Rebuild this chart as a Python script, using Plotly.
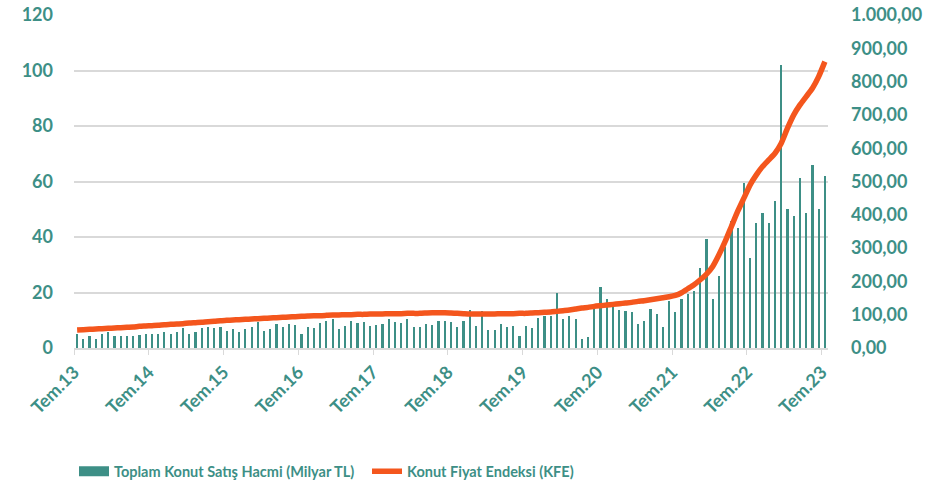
import plotly.graph_objects as go

TEAL = "#3D8F86"
ORANGE = "#F4561D"
GRID = "#D9D9D9"

# Monthly data, Jul 2013 (index 0) to Jul 2023 (index 120)
sales_volume = [
    4.9, 3.4, 4.3, 3.4, 5.1, 5.7, 4.3, 4.3, 4.5, 4.5, 4.7, 5.1,
    4.9, 4.9, 5.9, 5.2, 5.9, 7.1, 5.2, 5.7, 7.2, 7.7, 7.3, 7.5,
    6.1, 6.7, 5.8, 6.9, 7.7, 9.2, 6.0, 6.9, 8.6, 7.7, 8.7, 8.4,
    5.1, 7.5, 7.3, 8.9, 9.8, 10.4, 6.9, 7.9, 9.9, 9.0, 9.2, 8.1,
    8.2, 8.5, 10.6, 9.5, 9.1, 10.5, 7.7, 7.7, 8.8, 8.4, 9.7, 9.8,
    9.3, 7.4, 9.9, 13.8, 8.1, 13.4, 6.5, 6.5, 8.8, 7.7, 7.9, 4.5,
    7.8, 7.1, 10.9, 11.5, 11.6, 19.8, 10.6, 11.5, 10.3, 3.1, 3.9, 15.7,
    21.9, 17.5, 14.7, 13.7, 13.2, 12.9, 8.5, 9.9, 14.1, 12.3, 7.5, 17.1,
    12.9, 17.6, 19.3, 20.5, 28.9, 39.3, 17.7, 25.9, 36.3, 45.6, 43.2, 59.5,
    32.4, 45.2, 48.8, 45.1, 52.8, 102.0, 50.2, 47.4, 61.2, 48.8, 66.1, 50.2,
    61.9,
]

price_index = [
    54, 55, 56, 57, 58, 59, 60, 61, 62, 63, 65, 66,
    67, 68, 70, 71, 72, 73, 75, 76, 77, 79, 80, 82,
    83, 84, 85, 86, 87, 88, 89, 90, 91, 92, 93, 94,
    95, 96, 97, 97, 98, 99, 99, 100, 100, 101, 101, 102,
    102, 102, 103, 103, 103, 104, 104, 104, 105, 106, 106, 106,
    105, 104, 103, 102, 102, 102, 102, 102, 103, 103, 103, 104,
    104, 105, 106, 107, 108, 110, 112, 114, 117, 120, 122, 125,
    127, 129, 131, 133, 135, 137, 140, 142, 145, 148, 151, 154,
    158, 166, 178, 190, 205, 222, 245, 280, 320, 365, 410, 450,
    490, 520, 545, 565, 585, 615, 660, 700, 730, 755, 780, 815,
    860,
]

year_labels = ["Tem.13", "Tem.14", "Tem.15", "Tem.16", "Tem.17", "Tem.18",
               "Tem.19", "Tem.20", "Tem.21", "Tem.22", "Tem.23"]

months = list(range(len(sales_volume)))
label_pos = [i * 12 - 0.5 for i in range(len(year_labels))]

bar_name = "Toplam Konut Satış Hacmi (Milyar TL)"

fig = go.Figure()
fig.add_trace(
    go.Bar(
        x=months,
        y=sales_volume,
        name=bar_name,
        marker={"color": TEAL, "line": {"width": 0}},
        width=0.35,
        showlegend=False,
    )
)
# legend entry only: a wide teal block like the reference legend key
fig.add_trace(
    go.Scatter(
        x=[None],
        y=[None],
        mode="lines",
        name=bar_name,
        line={"color": TEAL, "width": 13},
    )
)
fig.add_trace(
    go.Scatter(
        x=months,
        y=price_index,
        mode="lines",
        name="Konut Fiyat Endeksi (KFE)",
        line={"color": ORANGE, "width": 5.5, "shape": "spline", "smoothing": 0.6},
        yaxis="y2",
    )
)

tick_font = {"family": "Lato, sans-serif", "size": 18, "color": TEAL, "weight": "bold"}

fig.update_layout(
    width=943,
    height=492,
    paper_bgcolor="white",
    plot_bgcolor="white",
    separators=",.",
    margin={"l": 74, "r": 115, "t": 15, "b": 144, "autoexpand": False},
    font={"family": "Lato, sans-serif", "color": TEAL},
    bargap=0,
    xaxis={
        "range": [-0.5, 120.5],
        "tickvals": label_pos,
        "ticktext": year_labels,
        "tickangle": -45,
        "tickfont": tick_font,
        "ticks": "outside",
        "ticklen": 5,
        "tickcolor": GRID,
        "showline": True,
        "linecolor": GRID,
        "linewidth": 1.5,
        "showgrid": False,
        "zeroline": False,
        "automargin": False,
    },
    yaxis={
        "range": [0, 120],
        "dtick": 20,
        "tickfont": tick_font,
        "showgrid": True,
        "gridcolor": GRID,
        "gridwidth": 1.5,
        "zeroline": False,
        "ticklabelstandoff": 20,
        "automargin": False,
    },
    yaxis2={
        "range": [0, 1000],
        "dtick": 100,
        "overlaying": "y",
        "side": "right",
        "tickformat": ",.2f",
        "tickfont": tick_font,
        "showgrid": False,
        "zeroline": False,
        "ticklabelstandoff": 22,
        "automargin": False,
    },
    legend={
        "orientation": "h",
        "x": 0.0,
        "xanchor": "left",
        "y": -0.37,
        "yanchor": "middle",
        "font": {"family": "Lato, sans-serif", "size": 14.5, "color": TEAL, "weight": "bold"},
        "itemwidth": 30,
        "entrywidth": 248,
    },
    showlegend=True,
)

fig.write_html(
    "out.html",
    config={"displayModeBar": False},
    post_script="document.body.style.margin = '0';",
)
